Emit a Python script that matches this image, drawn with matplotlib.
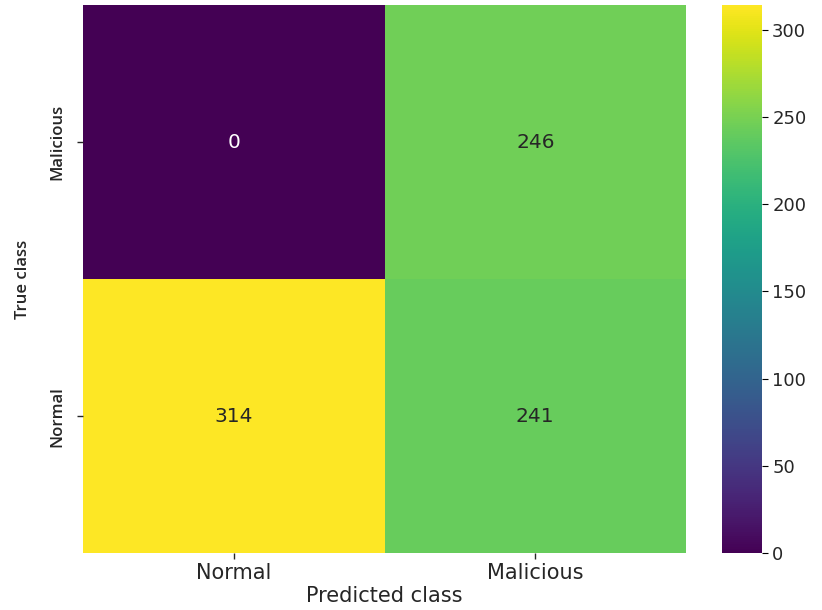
import matplotlib
matplotlib.use("Agg")
import matplotlib.pyplot as plt
from matplotlib.font_manager import FontProperties
import numpy as np
import seaborn as sns

# Confusion matrix: rows = true class, columns = predicted class
true_labels = ["Malicious", "Normal"]
pred_labels = ["Normal", "Malicious"]
counts = np.array([
    [0, 246],
    [314, 241],
])
cbar_ticks = [0, 50, 100, 150, 200, 250, 300]

text_color = "#262626"
narrow = FontProperties(family="Open Sans", stretch="condensed", weight="semibold", size=12)

fig = plt.figure(figsize=(8.22, 6.10), dpi=100)
ax = fig.add_axes([0.101, 0.0934, 0.7336, 0.898])
cax = fig.add_axes([0.878, 0.0934, 0.0487, 0.898])

sns.heatmap(counts, ax=ax, cbar_ax=cax, cmap="viridis", annot=True, fmt="d",
            annot_kws={"fontsize": 14.5}, vmin=0, vmax=counts.max(),
            xticklabels=pred_labels, yticklabels=true_labels)

ax.set_xticklabels(pred_labels, fontsize=15, color=text_color)
ax.set_yticklabels(true_labels, rotation=90, va="center", color=text_color)
for t in ax.get_yticklabels():
    t.set_fontproperties(narrow)
ax.set_xlabel("Predicted class", fontsize=15, color=text_color, labelpad=2)
ax.set_ylabel("True class", color=text_color, labelpad=13)
ax.yaxis.label.set_fontproperties(narrow)
ax.tick_params(axis="x", length=4, width=1, color=text_color)
ax.tick_params(axis="y", length=4, width=1, color=text_color, pad=9)

cax.set_yticks(cbar_ticks)
cax.tick_params(labelsize=13, length=4, labelcolor=text_color)
for s in cax.spines.values():
    s.set_visible(False)

fig.savefig("out.png", dpi=100)
